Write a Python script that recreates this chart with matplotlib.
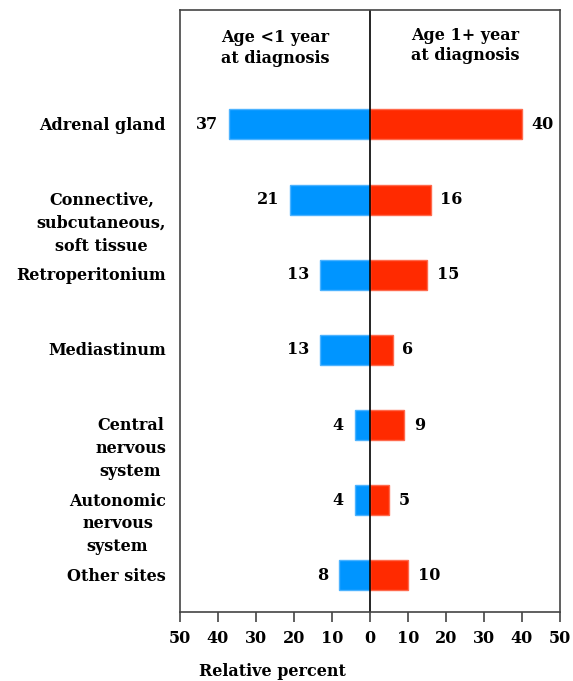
import numpy as np
import matplotlib.pyplot as plt
import matplotlib.transforms as mtransforms

# Data
sites = ['Adrenal gland', 'Connective,\nsubcutaneous,\nsoft tissue', 'Retroperitonium',
         'Mediastinum', 'Central\nnervous\nsystem', 'Autonomic\nnervous\nsystem', 'Other sites']
under_1 = [37, 21, 13, 13, 4, 4, 8]
over_1 = [40, 16, 15, 6, 9, 5, 10]
ticks = [-50, -40, -30, -20, -10, 0, 10, 20, 30, 40, 50]
tick_labels = ['50', '40', '30', '20', '10', '0', '10', '20', '30', '40', '50']

plt.rcParams['font.family'] = ['DejaVu Serif']
plt.rcParams['font.weight'] = 'bold'

fig = plt.figure(figsize=(5.73, 6.81), dpi=100)
ax = fig.add_axes([0.314, 0.101, 0.663, 0.884])

y = np.arange(len(sites))
blue = '#0095FF'
red = '#FF2A00'
ax.barh(y, [-v for v in under_1], height=0.4, color=blue, edgecolor='#4DB3FF', linewidth=1)
ax.barh(y, over_1, height=0.4, color=red, edgecolor='#FF6A4D', linewidth=1)
ax.axvline(0, color='black', linewidth=1.2)

fs = 11.5
for yi, a, b in zip(y, under_1, over_1):
    ax.annotate(str(a), (-a, yi), xytext=(-8, 0), textcoords='offset points',
                ha='right', va='center', fontsize=fs, fontweight='bold')
    ax.annotate(str(b), (b, yi), xytext=(7, 0), textcoords='offset points',
                ha='left', va='center', fontsize=fs, fontweight='bold')

trans = mtransforms.blended_transform_factory(fig.transFigure, ax.transData)
for yi, s in zip(y, sites):
    ax.annotate(s, (166 / 573, yi), xycoords=trans, xytext=(0, 5.5), textcoords='offset points',
                ha='right', va='top', multialignment='center', fontsize=fs,
                fontweight='bold', linespacing=1.45, annotation_clip=False)

ax.text(-25, -1.02, 'Age <1 year\nat diagnosis', ha='center', va='center', fontsize=fs,
        fontweight='bold', linespacing=1.3)
ax.text(25, -1.05, 'Age 1+ year\nat diagnosis', ha='center', va='center', fontsize=fs,
        fontweight='bold', linespacing=1.3)

ax.set_xlim(-50, 50)
ax.set_ylim(6.49, -1.52)
ax.set_yticks([])
ax.set_xticks(ticks)
ax.set_xticklabels(tick_labels, fontsize=fs, fontweight='bold')
ax.tick_params(axis='x', direction='out', length=7, width=1.2, color='#444444', pad=6)
for sp in ax.spines.values():
    sp.set_color('#444444')
    sp.set_linewidth(1.2)

fig.text(272 / 573, 1 - 671 / 681, 'Relative percent', ha='center', va='center',
         fontsize=fs, fontweight='bold')

fig.savefig('out.png', dpi=100)
